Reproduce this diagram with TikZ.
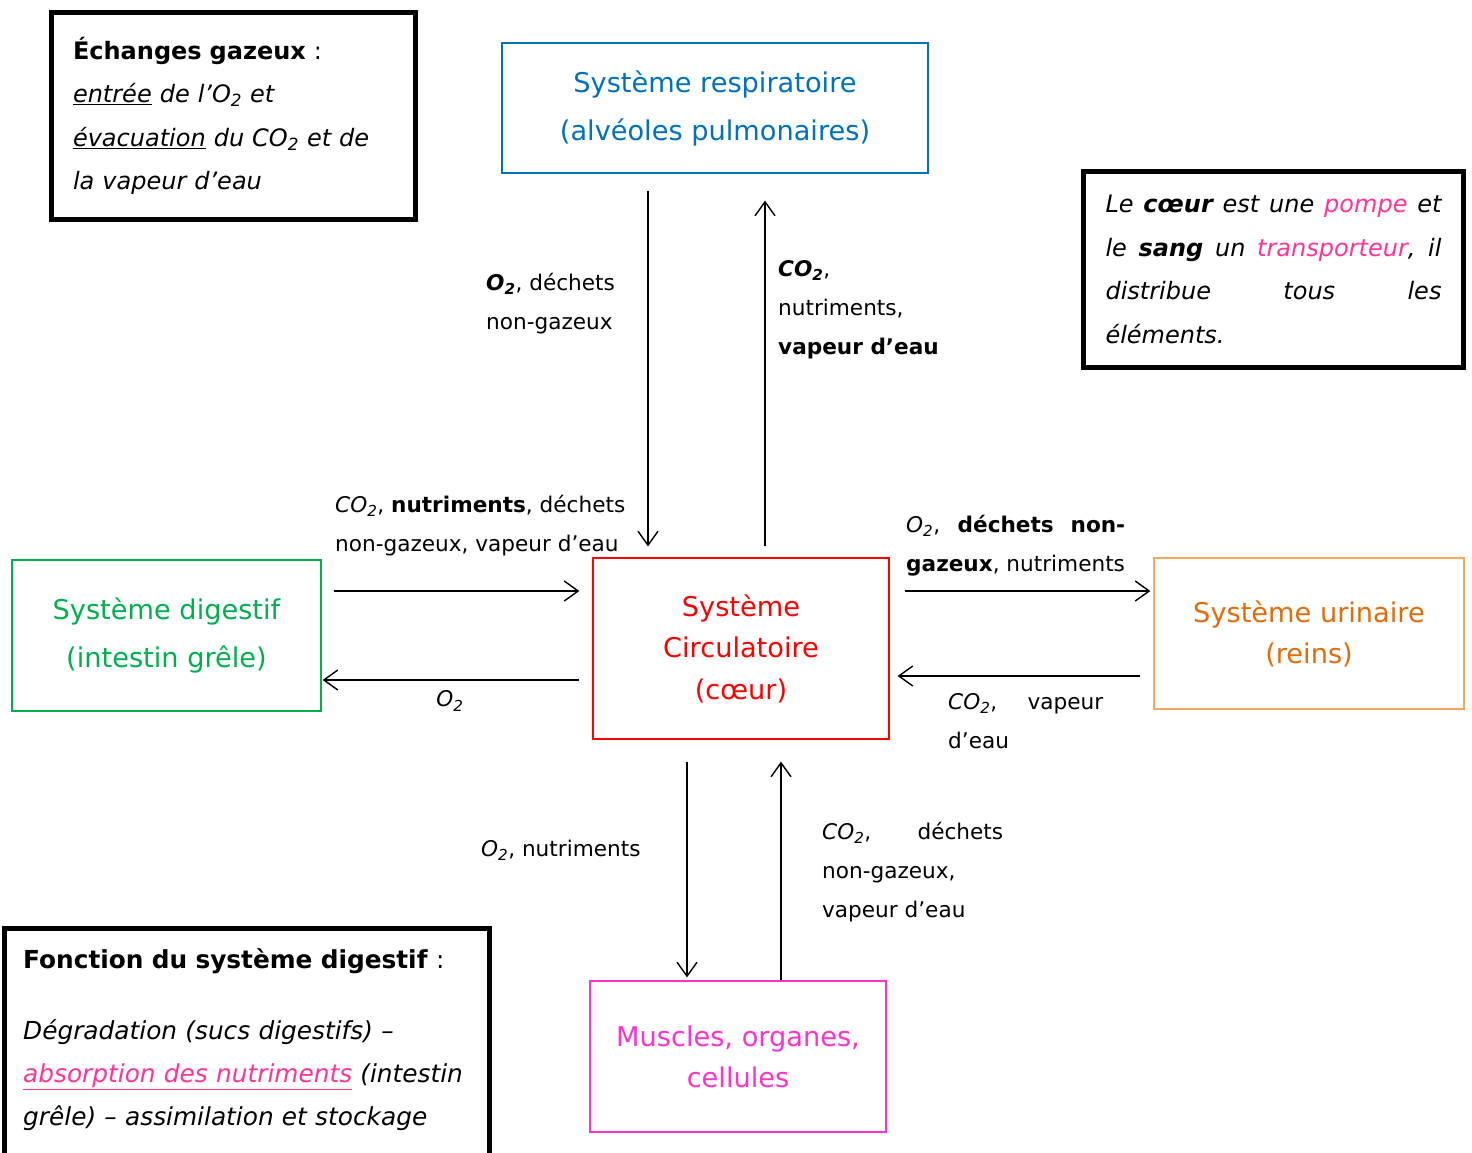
\documentclass[tikz,border=0pt]{standalone}
\usepackage{fontspec}
\setmainfont{DejaVu Sans}
\usetikzlibrary{arrows.meta}
\definecolor{resblue}{HTML}{0070C0}
\definecolor{circred}{HTML}{FF0000}
\definecolor{diggreen}{HTML}{00B050}
\definecolor{urintext}{HTML}{E36C09}
\definecolor{urinline}{HTML}{F8A65A}
\definecolor{muscpink}{HTML}{FF33CC}
\definecolor{pinkx}{HTML}{FF3399}
\newcommand{\Odeux}{O\textsubscript{2}}
\newcommand{\COdeux}{CO\textsubscript{2}}

\begin{document}
\begin{tikzpicture}[x=1pt,y=-1pt,
  sysbox/.style={draw=#1, text=#1, line width=1.2pt, align=center,
    font=\fontsize{27.2}{44}\selectfont},
  callout/.style={draw, line width=5pt, font=\fontsize{24}{43.5}\selectfont},
  flux/.style={-{Straight Barb[length=14pt,width=20pt]}, line width=1.4pt},
  lbl/.style={anchor=west, align=left, inner sep=0pt,
    font=\fontsize{21.6}{39}\selectfont}]
\useasboundingbox (0,0) rectangle (1472,1153);

% Define the systems
\node[sysbox=resblue, minimum width=426pt, minimum height=130pt,
  font=\fontsize{27.2}{48}\selectfont] (resp) at (715,108)
  {Système respiratoire\\(alvéoles pulmonaires)};
\node[sysbox=circred, minimum width=296pt, minimum height=181pt,
  font=\fontsize{27.2}{41.5}\selectfont] (circ) at (741,648.5)
  {Système\\Circulatoire\\(cœur)};
\node[sysbox=diggreen, minimum width=309pt, minimum height=151pt,
  font=\fontsize{27.2}{48}\selectfont] (dig) at (166.5,635.5)
  {Système digestif\\(intestin grêle)};
\node[sysbox=urinline, text=urintext, minimum width=310pt, minimum height=151pt,
  font=\fontsize{27.2}{41}\selectfont] (urin) at (1309,633.5)
  {Système urinaire\\(reins)};
\node[sysbox=muscpink, minimum width=296pt, minimum height=151pt,
  font=\fontsize{27.2}{41}\selectfont] (musc) at (738,1056.5)
  {Muscles, organes,\\cellules};

% Define the arrow lanes
\coordinate (xa) at (648,0);
\coordinate (xb) at (765,0);
\coordinate (xc) at (687,0);
\coordinate (xd) at (781,0);
\coordinate (ya) at (0,591);
\coordinate (yb) at (0,680);
\coordinate (yc) at (0,676);

% Draw the exchanges
\draw[flux, shorten <=17pt, shorten >=11pt] (resp.south -| xa) -- (circ.north -| xa);
\draw[flux, shorten <=11pt, shorten >=27pt] (circ.north -| xb) -- (resp.south -| xb);
\draw[flux, shorten <=12pt, shorten >=13pt] (dig.east |- ya) -- (circ.west |- ya);
\draw[flux, shorten <=13pt, shorten >=1pt] (circ.west |- yb) -- (dig.east |- yb);
\draw[flux, shorten <=15pt, shorten >=3pt] (circ.east |- ya) -- (urin.west |- ya);
\draw[flux, shorten <=13pt, shorten >=8pt] (urin.west |- yc) -- (circ.east |- yc);
\draw[flux, shorten <=22pt, shorten >=3pt] (circ.south -| xc) -- (musc.north -| xc);
\draw[flux, shorten >=22pt] (musc.north -| xd) -- (circ.south -| xd);

% Labels of the exchanges
\node[lbl] (respin) at (486,303.5) {\textbf{\textit{\Odeux}}, déchets\\non-gazeux};
\node[lbl] (respout) at (778,310) {\textbf{\textit{\COdeux}},\\nutriments,\\\textbf{vapeur d'eau}};
\node[lbl] (digout) at (335,525.5) {\textit{\COdeux}, \textbf{nutriments}, déchets\\non-gazeux, vapeur d'eau};
\node[lbl, anchor=center] (digin) at (450,701) {\textit{\Odeux}};
\node[lbl, text width=219pt, align=justify] (urinin) at (906,546)
  {\textit{\Odeux}, \textbf{déchets non-}\linebreak\textbf{gazeux}, nutriments};
\node[lbl, text width=155pt, align=justify] (urinout) at (948,721.5)
  {\textit{\COdeux}, vapeur\linebreak d'eau};
\node[lbl] (muscin) at (481,850) {\textit{\Odeux}, nutriments};
\node[lbl, text width=181pt, align=justify] (muscout) at (822,872)
  {\textit{\COdeux}, déchets\linebreak non-gazeux,\\vapeur d'eau};

% Side notes
\node[callout, minimum width=364pt, minimum height=206pt, text width=320pt,
  align=left] (echanges) at (233,116)
  {\textbf{Échanges gazeux} :\\
  \textit{\underline{entrée} de l'\Odeux{} et}\\
  \textit{\underline{évacuation} du \COdeux{} et de}\\
  \textit{la vapeur d'eau}};
\node[callout, minimum width=380pt, minimum height=196pt, text width=336pt,
  align=justify] (pompe) at (1273.5,269.5)
  {\itshape Le \textbf{cœur} est une \textcolor{pinkx}{pompe} et\linebreak
  le \textbf{sang} un \textcolor{pinkx}{transporteur}, il\linebreak
  distribue tous les\linebreak éléments.};
\draw[line width=5pt] (4.5,928.5) rectangle (489.5,1180);
\node[anchor=west, align=left, inner sep=0pt, text width=460pt,
  font=\fontsize{24.8}{43}\selectfont] (fonction) at (23,1040)
  {\textbf{Fonction du système digestif} :\\[28pt]
  \itshape Dégradation (sucs digestifs) --\\
  \textcolor{pinkx}{\underline{absorption des nutriments}} (intestin\\
  grêle) -- assimilation et stockage};
\end{tikzpicture}
\end{document}
